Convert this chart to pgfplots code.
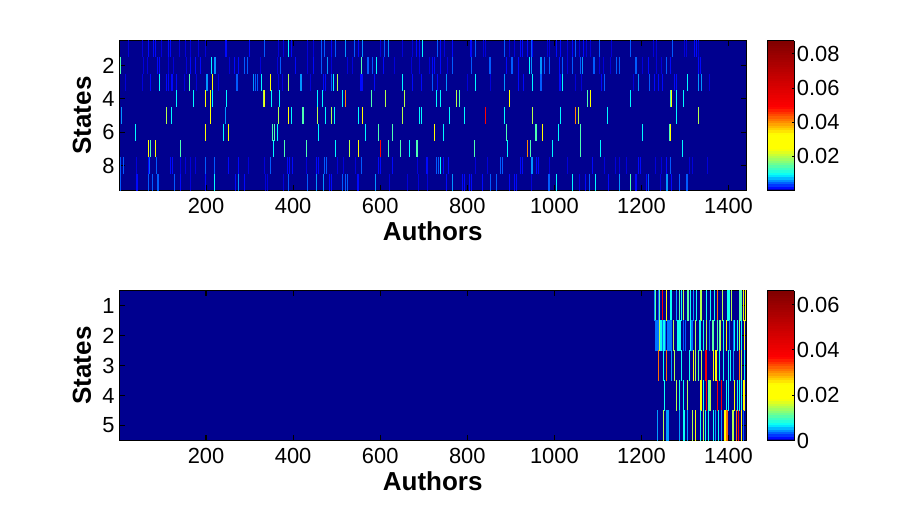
\documentclass[border=0pt]{standalone}
\usepackage{fontspec}
\setmainfont{Liberation Sans}
\usepackage{pgfplots}
\pgfplotsset{compat=1.18}
\definecolor{bgblue}{rgb}{0,0,0.5625}
\pgfplotsset{
  colormap={mj}{rgb(0pt)=(0,0,.5625); rgb(2pt)=(0,0,1); rgb(11pt)=(0,1,1); rgb(19pt)=(.5,1,.5);
    rgb(28pt)=(1,1,0); rgb(38pt)=(1,1,0); rgb(47pt)=(1,.5,0); rgb(56pt)=(1,0,0); rgb(100pt)=(.5,0,0)},
  heat/.style={
    scale only axis, width=470.25pt, height=112.5pt, anchor=south west,
    xmin=0.5, xmax=1440.5, y dir=reverse, axis on top,
    axis background/.style={fill=bgblue},
    xtick={200,400,...,1400},
    xtick pos=both, ytick pos=both,
    xticklabel pos=bottom, yticklabel pos=left,
    tick align=inside, major tick length=4pt,
    tick style={black, line width=.9pt}, axis line style={line width=.75pt},
    tick label style={font=\fontsize{16.4pt}{16.4pt}\selectfont},
    xticklabel style={yshift=-2.2pt},
    /pgf/number format/assume math mode=true,
    /pgf/number format/1000 sep={},
    label style={font=\fontsize{19.5pt}{20pt}\selectfont\bfseries},
    xlabel=Authors, ylabel=States,
    xlabel style={yshift=0.5pt}, ylabel style={yshift=1.5pt},
    colorbar, colorbar sampled,
    colorbar style={
      samples=65, at={(1.0335,1)}, anchor=north west, width=20.25pt, height=112.5pt,
      ytick pos=right, tick align=inside, major tick length=2pt,
      tick style={black, line width=.6pt}, axis line style={line width=.75pt},
      scaled y ticks=false,
      /pgf/number format/fixed, /pgf/number format/precision=2,
      /pgf/number format/assume math mode=true,
      yticklabel style={font=\fontsize{16.4pt}{16.4pt}\selectfont, xshift=-1.5pt},
    },
  },
  stripes/.style={scatter, only marks, mark=|, point meta=explicit,
    scatter/use mapped color={draw=mapped color},
    mark options={line width=.75pt}},
}
\begin{document}
\begin{tikzpicture}
\path[use as bounding box] (0,0) rectangle (686.25pt,396pt);
% top panel, 9 states
\begin{axis}[heat, at={(89.4pt,253.1pt)}, ymin=0.5, ymax=9.5, ytick={2,4,6,8},
  point meta min=0.0001, point meta max=0.0877,
  colorbar style={ytick={0.02,0.04,0.06,0.08}}]
\addplot[stripes, mark size=6.3pt] coordinates {
(23,1)[.0013](54,1)[.0013](68,1)[.0021](79,1)[.0021](83,1)[.0021](97,1)[.0013](114,1)[.0021](118,1)[.0021](138,1)[.0013](152,1)[.0013](164,1)[.0013](183,1)[.0013](198,1)[.0013](244,1)[.0021](248,1)[.0021](300,1)[.0021](334,1)[.0047](366,1)[.0013](378,1)[.0013](389,1)[.0096](397,1)[.0021](432,1)[.0013](447,1)[.0013]
(464,1)[.0047](471,1)[.0047](488,1)[.0021](497,1)[.0047](520,1)[.0065](541,1)[.0047](550,1)[.0021](559,1)[.0065](601,1)[.0013](610,1)[.0047](619,1)[.0065](651,1)[.0013](674,1)[.0013](683,1)[.0021](690,1)[.0021](697,1)[.0096](732,1)[.0047](738,1)[.0021](748,1)[.0013](766,1)[.0021](807,1)[.0021](810,1)[.0021](819,1)[.0047](837,1)[.0013](842,1)[.0013](885,1)[.0047](897,1)[.0013](908,1)[.0013](922,1)[.0021](926,1)[.0021](938,1)[.0021](947,1)[.0047]
(949,1)[.0021](985,1)[.0013](989,1)[.0013](1005,1)[.0021](1014,1)[.0021](1029,1)[.0013](1042,1)[.0021](1049,1)[.0047](1058,1)[.0013](1067,1)[.0021](1074,1)[.0013](1083,1)[.0013](1104,1)[.0047](1131,1)[.0013](1175,1)[.0047](1228,1)[.0013](1235,1)[.0013](1272,1)[.0047](1299,1)[.0013](1304,1)[.0013](1322,1)[.0021](1327,1)[.0021](1331,1)[.0013]
(4,2)[.014](56,2)[.0013](65,2)[.0013](89,2)[.0021](92,2)[.0021](114,2)[.0013](125,2)[.0013](154,2)[.0013](164,2)[.0021](175,2)[.0021](187,2)[.0021](213,2)[.0096](219,2)[.0065](222,2)[.0065](254,2)[.0013](265,2)[.0021](275,2)[.0021](288,2)[.0047](295,2)[.0047](324,2)[.0013](363,2)[.0013](370,2)[.0047](405,2)[.0021](432,2)[.0013](447,2)[.0021]
(465,2)[.0047](479,2)[.0065](488,2)[.0013](525,2)[.0013](536,2)[.0013](557,2)[.014](571,2)[.0047](573,2)[.0047](582,2)[.0047](591,2)[.0096](607,2)[.0021](633,2)[.0013](672,2)[.0013](690,2)[.0013](713,2)[.0013](720,2)[.0021](725,2)[.0021](738,2)[.0021](754,2)[.0013](766,2)[.0047](810,2)[.0047](851,2)[.0047](853,2)[.0047](890,2)[.0021](902,2)[.0047](904,2)[.0047](918,2)[.0021](943,2)[.0096]
(948,2)[.0065](968,2)[.0065](971,2)[.0065](978,2)[.0047](989,2)[.0047](1012,2)[.0021](1019,2)[.0047](1030,2)[.0013](1042,2)[.0047](1060,2)[.0047](1065,2)[.0065](1090,2)[.0047](1092,2)[.0047](1104,2)[.0013](1113,2)[.0013](1129,2)[.0013](1143,2)[.0047](1150,2)[.0047](1187,2)[.0047](1189,2)[.0047](1203,2)[.0013](1216,2)[.0021](1235,2)[.0013](1246,2)[.0013](1258,2)[.0047](1267,2)[.0021](1331,2)[.0021](1336,2)[.0021]
(14,3)[.0013](54,3)[.0013](73,3)[.0021](93,3)[.0096](110,3)[.0021](114,3)[.0021](120,3)[.0021](123,3)[.0021](133,3)[.0021](150,3)[.0013](162,3)[.014](179,3)[.0013](200,3)[.0065](203,3)[.0065](215,3)[.026](229,3)[.0013](269,3)[.0047](272,3)[.0047](309,3)[.0065](314,3)[.0047](317,3)[.0047](327,3)[.0096](348,3)[.026](366,3)[.0013](376,3)[.0013](389,3)[.02](416,3)[.0065](419,3)[.0065](439,3)[.0013]
(470,3)[.0021](474,3)[.0021](488,3)[.0047](493,3)[.0096](502,3)[.02](555,3)[.0021](557,3)[.0021](559,3)[.0021](587,3)[.0021](651,3)[.0096](674,3)[.0021](695,3)[.0021](720,3)[.0047](732,3)[.0021](752,3)[.0065](800,3)[.0013](819,3)[.0096](853,3)[.0013](885,3)[.0065](918,3)[.0021](929,3)[.0021]
(950,3)[.0096](968,3)[.0047](971,3)[.0047](1012,3)[.0021](1014,3)[.0021](1019,3)[.0096](1049,3)[.0013](1063,3)[.0013](1108,3)[.0021](1115,3)[.0047](1182,3)[.0013](1193,3)[.0065](1219,3)[.0047](1230,3)[.0021](1239,3)[.0021](1249,3)[.0021](1276,3)[.0021](1281,3)[.0021](1306,3)[.0096](1331,3)[.0065](1338,3)[.0065](1357,3)[.0013]
(132,4)[.0096](170,4)[.0096](199,4)[.026](210,4)[.026](215,4)[.0096](247,4)[.0096](333,4)[.02](335,4)[.026](350,4)[.0096](369,4)[.0096](456,4)[.0096]
(467,4)[.0096](513,4)[.0096](520,4)[.041](580,4)[.014](612,4)[.02](656,4)[.02](729,4)[.0096](738,4)[.0096](775,4)[.02](782,4)[.014](897,4)[.026]
(1076,4)[.014](1083,4)[.026](1175,4)[.0096](1267,4)[.014](1269,4)[.026](1281,4)[.0096](1297,4)[.0096]
(6,5)[.0065](109,5)[.02](121,5)[.0096](210,5)[.026](245,5)[.0065](366,5)[.02](389,5)[.026](396,5)[.0096](422,5)[.014](424,5)[.014](456,5)[.02]
(474,5)[.0096](488,5)[.02](495,5)[.0096](550,5)[.0096](559,5)[.026](651,5)[.02](690,5)[.0096](695,5)[.0096](759,5)[.0096](794,5)[.0096](842,5)[.049](885,5)[.0096]
(950,5)[.02](1014,5)[.0096](1049,5)[.041](1056,5)[.02](1122,5)[.0096](1281,5)[.0096](1331,5)[.02]
(38,6)[.0096](199,6)[.026](240,6)[.0096](252,6)[.026](353,6)[.014](357,6)[.014](364,6)[.0096](458,6)[.0096]
(566,6)[.0096](596,6)[.014](628,6)[.014](725,6)[.026](745,6)[.0096](890,6)[.014]
(957,6)[.014](959,6)[.014](973,6)[.026](1010,6)[.0096](1060,6)[.014](1203,6)[.0096](1265,6)[.014](1267,6)[.026]
(68,7)[.026](72,7)[.014](84,7)[.026](141,7)[.014](355,7)[.0096](380,7)[.014](431,7)[.014]
(497,7)[.0096](529,7)[.02](550,7)[.026](601,7)[.049](619,7)[.014](647,7)[.014](667,7)[.0096](683,7)[.014](686,7)[.014](817,7)[.014](892,7)[.0096](938,7)[.041]
(945,7)[.014](996,7)[.0096](1060,7)[.014](1106,7)[.0096](1295,7)[.0096]
(4,8)[.0047](10,8)[.0047](40,8)[.0013](67,8)[.0021](70,8)[.0047](86,8)[.0047](118,8)[.0021](122,8)[.0021](141,8)[.0013](153,8)[.0013](164,8)[.0013](176,8)[.0013](199,8)[.0047](219,8)[.0047](252,8)[.0021](275,8)[.0021](298,8)[.0013](334,8)[.0013](348,8)[.0047](387,8)[.0021](392,8)[.0021](399,8)[.0021](431,8)[.0013](454,8)[.0021](458,8)[.0021]
(472,8)[.0047](477,8)[.0047](502,8)[.0013](516,8)[.0013](543,8)[.0013](557,8)[.0047](596,8)[.0021](600,8)[.0021](628,8)[.0021](686,8)[.0013](706,8)[.0021](709,8)[.0021](730,8)[.0047](734,8)[.0047](738,8)[.0096](745,8)[.0021](757,8)[.0021](819,8)[.0013](846,8)[.0013](876,8)[.0047](881,8)[.0047](922,8)[.0021](927,8)[.0021]
(948,8)[.0065](950,8)[.0065](959,8)[.0021](964,8)[.0021](989,8)[.0013](1030,8)[.0013](1088,8)[.0021](1115,8)[.0013](1141,8)[.0013](1150,8)[.0013](1166,8)[.0013](1193,8)[.0021](1198,8)[.0021](1232,8)[.0013](1246,8)[.0013](1258,8)[.0021](1267,8)[.0047](1311,8)[.0013](1318,8)[.0013](1352,8)[.0013]
(4,9)[.0047](40,9)[.0021](43,9)[.0021](67,9)[.0047](77,9)[.0047](89,9)[.0047](91,9)[.0047](128,9)[.0047](141,9)[.0021](164,9)[.0013](199,9)[.0021](219,9)[.0096](268,9)[.0021](275,9)[.0065](288,9)[.0021](337,9)[.0013](341,9)[.0013](378,9)[.0013](389,9)[.0047](433,9)[.0047](454,9)[.0065]
(470,9)[.0065](483,9)[.0021](488,9)[.0021](513,9)[.0047](520,9)[.0047](525,9)[.0047](548,9)[.0021](550,9)[.0021](589,9)[.0065](621,9)[.0013](663,9)[.0013](688,9)[.0013](709,9)[.0013](752,9)[.0021](766,9)[.0065](789,9)[.0021](794,9)[.0021](805,9)[.0021](810,9)[.0021](835,9)[.0021](853,9)[.0047](867,9)[.0047](898,9)[.0021](908,9)[.0021](913,9)[.0021]
(948,9)[.0013](987,9)[.0047](989,9)[.0047](1005,9)[.0096](1042,9)[.0096](1058,9)[.0013](1072,9)[.0021](1081,9)[.0047](1095,9)[.0096](1125,9)[.0021](1150,9)[.0065](1175,9)[.014](1187,9)[.0021](1189,9)[.0021](1212,9)[.0021](1216,9)[.0047](1244,9)[.0013](1258,9)[.0065](1260,9)[.0065](1269,9)[.0021](1288,9)[.0047](1304,9)[.0047](1306,9)[.0047]
};
\end{axis}
% bottom panel, 5 states
\begin{axis}[heat, at={(89.4pt,65.6pt)}, ymin=0.5, ymax=5.5, ytick={1,2,3,4,5},
  point meta min=0, point meta max=0.0662,
  colorbar style={ytick={0,0.02,0.04,0.06}}]
\addplot[stripes, mark size=11.3pt, mark options={line width=1pt}] coordinates {
(1230,1)[.005](1232,1)[.011](1239,1)[.0035](1242,1)[.011](1249,1)[.038](1257,1)[.022](1267,1)[.0078](1269,1)[.0078](1281,1)[.005](1288,1)[.011](1292,1)[.0078](1297,1)[.015](1306,1)[.011](1308,1)[.011](1313,1)[.0078](1320,1)[.005](1327,1)[.0078](1336,1)[.015](1338,1)[.015](1350,1)[.0078](1359,1)[.0078](1368,1)[.0078](1375,1)[.032](1386,1)[.015](1398,1)[.0078](1400,1)[.0078](1402,1)[.0078](1407,1)[.015](1425,1)[.011](1428,1)[.011](1430,1)[.011](1435,1)[.018](1439,1)[.022]
(1232,2)[.004](1235,2)[.004](1237,2)[.004](1239,2)[.004](1242,2)[.015](1245,2)[.0078](1248,2)[.004](1252,2)[.0078](1255,2)[.004](1259,2)[.004](1262,2)[.004](1264,2)[.004](1268,2)[.004](1274,2)[.015](1282,2)[.0078](1285,2)[.0078](1287,2)[.0078](1289,2)[.0078](1297,2)[.0035](1301,2)[.0035](1312,2)[.0078](1316,2)[.004](1324,2)[.015](1334,2)[.0078](1336,2)[.0078](1343,2)[.0078](1350,2)[.015](1356,2)[.004](1363,2)[.011](1366,2)[.011](1375,2)[.011](1379,2)[.011](1382,2)[.015](1389,2)[.0078](1396,2)[.022](1402,2)[.004](1412,2)[.004](1414,2)[.0078](1421,2)[.0078](1425,2)[.015](1430,2)[.0078](1437,2)[.022]
(1239,3)[.032](1251,3)[.0078](1258,3)[.032](1269,3)[.005](1276,3)[.015](1292,3)[.0078](1311,3)[.0078](1320,3)[.022](1324,3)[.015](1331,3)[.011](1338,3)[.015](1348,3)[.038](1366,3)[.022](1370,3)[.022](1373,3)[.022](1379,3)[.0078](1389,3)[.0078](1400,3)[.0078](1405,3)[.0078](1412,3)[.005](1425,3)[.032](1430,3)[.015](1437,3)[.0078]
(1253,4)[.0078](1281,4)[.015](1288,4)[.0078](1297,4)[.0078](1306,4)[.015](1336,4)[.022](1338,4)[.022](1343,4)[.0078](1350,4)[.038](1354,4)[.011](1356,4)[.011](1359,4)[.015](1375,4)[.038](1384,4)[.038](1396,4)[.0078](1400,4)[.0078](1414,4)[.022](1421,4)[.0078](1425,4)[.0078](1430,4)[.0078](1435,4)[.022](1437,4)[.022]
(1237,5)[.005](1251,5)[.015](1258,5)[.005](1260,5)[.005](1262,5)[.005](1288,5)[.005](1297,5)[.0078](1299,5)[.0078](1306,5)[.005](1317,5)[.015](1324,5)[.022](1336,5)[.0078](1343,5)[.015](1347,5)[.0078](1354,5)[.0078](1366,5)[.0078](1370,5)[.005](1377,5)[.0078](1384,5)[.005](1391,5)[.022](1393,5)[.022](1396,5)[.032](1398,5)[.032](1409,5)[.015](1412,5)[.015](1418,5)[.032](1423,5)[.038](1430,5)[.022](1435,5)[.0035]
};
\end{axis}
\end{tikzpicture}
\end{document}
